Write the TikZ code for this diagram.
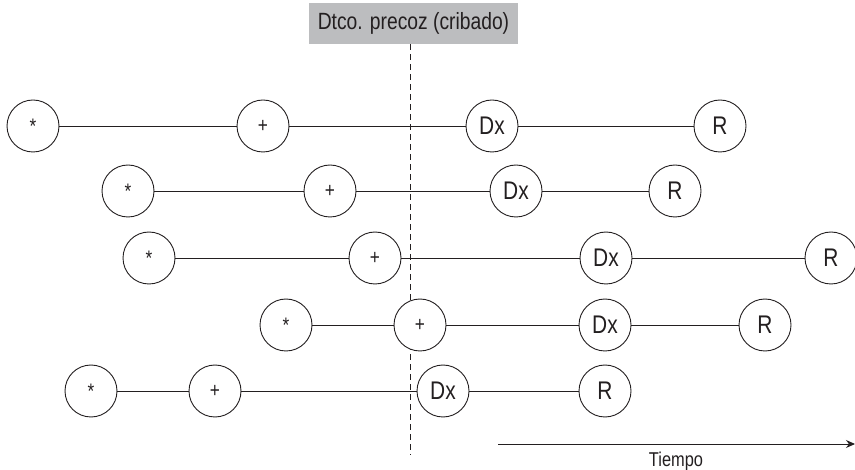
\documentclass[tikz,border=0pt]{standalone}
\usepackage{fontspec}
\setmainfont{Liberation Sans}[FakeStretch=0.82]
\usetikzlibrary{arrows.meta}
\definecolor{hdrgray}{RGB}{188,189,191}
\definecolor{ink}{RGB}{35,31,32}
\begin{document}
\begin{tikzpicture}[x=1pt,y=-1pt,
  ev/.style={circle,draw=ink,fill=white,line width=0.9pt,minimum size=52pt,inner sep=0pt,font=\fontsize{25.5}{26}\selectfont,text=ink},
  sym/.style={ev,font=\fontsize{21}{21}\selectfont},
  link/.style={draw=ink,line width=0.9pt}]
\useasboundingbox (0,0) rectangle (855,470);
% screening moment
\node[fill=hdrgray,minimum width=209pt,minimum height=41pt,inner sep=0pt,font=\fontsize{23.5}{24}\selectfont,text=ink] (hdr) at (413.5,23.5) {Dtco. precoz (cribado)};
\coordinate (cutbot) at (410,455);
\draw[ink,line width=0.9pt,dash pattern=on 6pt off 4pt] (hdr.south -| cutbot) -- (cutbot);
% natural history rows: onset, preclinical, diagnosis, result
\foreach \r/\y/\a/\b/\c/\d in {1/126/33/263/492/720, 2/191/128/330/516/675, 3/258/149/375/606/831, 4/325/286/420/605/765, 5/391/91/215/443/605}{
  \node[sym] (s\r) at (\a,\y) {*};
  \node[sym] (p\r) at (\b,\y) {+};
  \node[ev] (d\r) at (\c,\y) {Dx};
  \node[ev] (e\r) at (\d,\y) {R};
  \draw[link] (s\r) -- (p\r) (p\r) -- (d\r) (d\r) -- (e\r);
}
% time axis
\coordinate (t0) at (498,444);
\coordinate (t1) at (855,444);
\draw[link,-{Stealth[length=9pt,width=8pt]}] (t0) -- (t1);
\node[font=\fontsize{20}{20}\selectfont,text=ink] (tiempo) at (676,461) {Tiempo};
\end{tikzpicture}
\end{document}
